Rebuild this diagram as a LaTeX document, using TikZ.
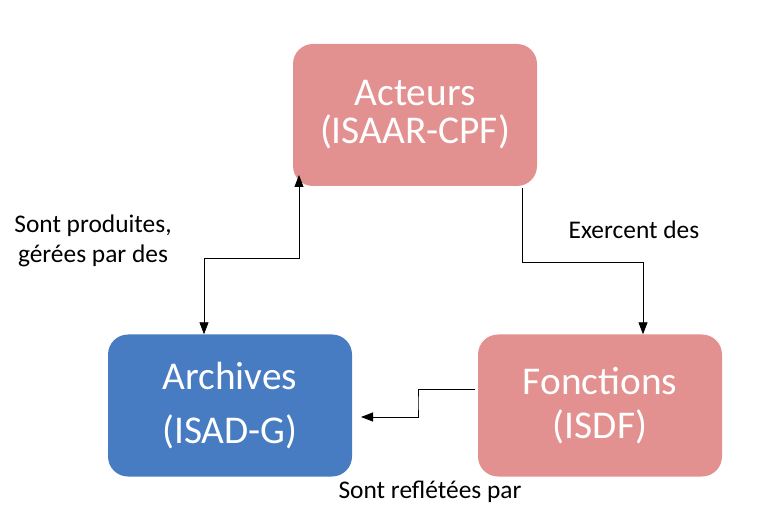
\documentclass[tikz,border=0pt]{standalone}
\usepackage{fontspec}
\setmainfont{Carlito}
\usetikzlibrary{arrows.meta}
\definecolor{boxpink}{HTML}{E39190}
\definecolor{boxblue}{HTML}{477CC2}
\tikzset{
  boxnode/.style={rounded corners=20bp, minimum width=244bp, minimum height=142bp,
    inner sep=0pt, text=white, align=center, font=\fontsize{39.5}{38}\selectfont},
  lbl/.style={font=\fontsize{25.5}{31}\selectfont, text=black, inner sep=0pt, align=center},
  conn/.style={line width=0.8bp, draw=black},
  tipshape/.style={-{Triangle[length=12bp,width=9bp]}},
  twotips/.style={{Triangle[length=12bp,width=9bp]}-{Triangle[length=12bp,width=9bp]}}
}
\begin{document}
\begin{tikzpicture}[x=1bp,y=-1bp]
\useasboundingbox (0,0) rectangle (769,521);
\node[boxnode, fill=boxpink] (acteurs) at (415,115) {Acteurs\\(ISAAR-CPF)};
\node[boxnode, fill=boxblue] (archives) at (230,405.5) {Archives\\[17bp](ISAD-G)};
\node[boxnode, fill=boxpink] (fonctions) at (600,405.5) {Fonctions\\[6bp](ISDF)};

\coordinate (a2) at (299,175);
\coordinate (a1) at (204,258);
\draw[conn, twotips] (a2) |- (a1) -- (a1 |- archives.north);

\coordinate (c0) at (522,188);
\coordinate (c1) at (643,262);
\draw[conn, tipshape] (c0) |- (c1) -- (c1 |- fonctions.north);

\coordinate (b0) at (475,389);
\coordinate (b1) at (418,403);
\coordinate (b2) at (361,417);
\draw[conn, tipshape] (b0) -| (b1) |- (b2);

\node[lbl, anchor=base] (l1) at (93,263) {Sont produites,\\gérées par des};
\node[lbl, anchor=base] (l2) at (634,239) {Exercent des};
\node[lbl, anchor=base] (l3) at (430,498) {Sont reflétées par};
\end{tikzpicture}
\end{document}
